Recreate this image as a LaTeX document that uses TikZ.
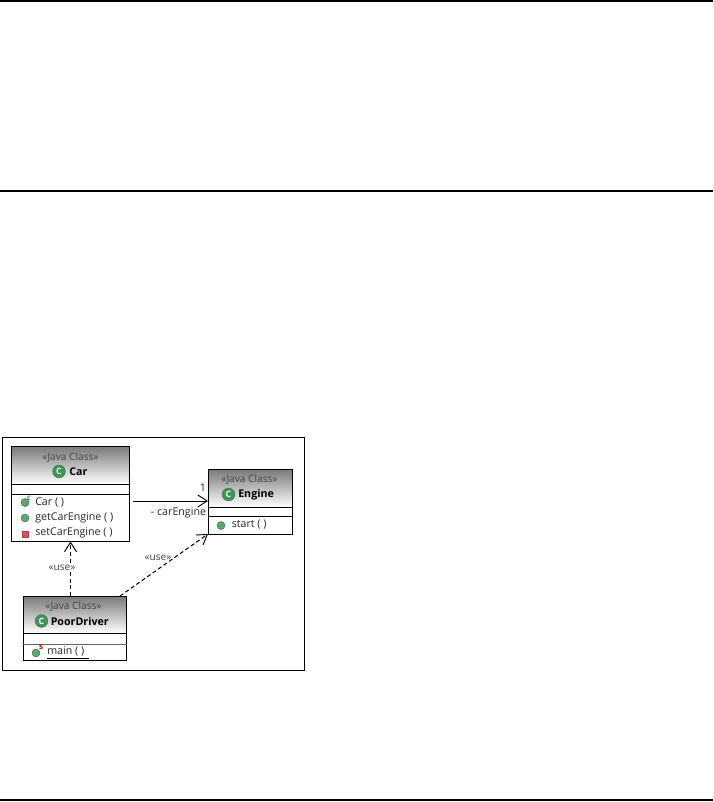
\documentclass[tikz,border=0pt]{standalone}
\usepackage{fontspec}
\setmainfont{Open Sans}
\usetikzlibrary{arrows.meta}
\definecolor{iconG}{RGB}{62,150,90}
\definecolor{iconR}{RGB}{225,80,90}
\definecolor{headG}{RGB}{120,120,120}
\tikzset{
  x=0.75pt,y=-0.75pt,
  rulel/.style={black,line width=0.9pt},
  frameb/.style={draw=black,line width=0.75pt},
  classbox/.style={draw=black,line width=0.75pt,anchor=north west,inner sep=0pt,outer sep=0pt},
  headshade/.style={top color=headG,bottom color=white,draw=none},
  sep/.style={black,line width=0.75pt},
  txt/.style={font=\fontsize{8}{9.5}\selectfont,inner sep=0pt,text=black!85},
  titletxt/.style={font=\fontsize{8}{9.5}\selectfont\bfseries,inner sep=0pt,anchor=west},
  stereo/.style={font=\fontsize{7.6}{9}\selectfont,inner sep=0pt,text=black!75},
  member/.style={txt,anchor=west},
  ciconn/.style={circle,fill=iconG,draw=iconG!70!black,line width=0.3pt,minimum size=9.5pt,inner sep=0pt,text=white,font=\fontsize{6.5}{7}\selectfont\bfseries},
  pub/.style={circle,fill=iconG!85!white,draw=iconG!70!black,line width=0.3pt,minimum size=6pt,inner sep=0pt},
  priv/.style={rectangle,fill=iconR,draw=iconR!80!black,line width=0.3pt,minimum size=4.8pt,inner sep=0pt},
  assoc/.style={-{Straight Barb[length=7pt,width=9pt,line width=0.7pt]},black,line width=0.75pt},
  dep/.style={assoc,dashed,dash pattern=on 3pt off 2pt},
}
\begin{document}
\begin{tikzpicture}
\useasboundingbox (0,0) rectangle (713,802);
% page rules
\coordinate (ra) at (0,1); \coordinate (rb) at (713,1);
\coordinate (rc) at (0,191); \coordinate (rd) at (713,191);
\coordinate (re) at (0,800); \coordinate (rf) at (713,800);
\draw[rulel] (ra)--(rb);
\draw[rulel] (rc)--(rd);
\draw[rulel] (re)--(rf);
% frame
\draw[frameb] (2,437) rectangle (304,670);

% Car
\fill[headshade] (11.5,446) rectangle (129.5,484);
\node[classbox,minimum width=88.5pt,minimum height=71.25pt] (car) at (11.5,446) {};
\draw[sep] (11.5,484) -- (129.5,484);
\draw[sep] (11.5,494) -- (129.5,494);
\node[stereo] (carst) at (70.5,458) {«Java Class»};
\node[ciconn] (carc) at (59,471.5) {C};
\node[titletxt] (carn) at (69,471.5) {Car};
\node[pub] (m1i) at (25,502.5) {};
\node[font=\fontsize{6}{6}\selectfont\bfseries,text=iconG,inner sep=0pt] (m1c) at (29,498) {c};
\node[member] (m1) at (35,502) {Car ( )};
\node[pub] (m2i) at (25,518) {};
\node[member] (m2) at (35,517.5) {getCarEngine ( )};
\node[priv] (m3i) at (25,534) {};
\node[member] (m3) at (35,533) {setCarEngine ( )};

% Engine
\fill[headshade] (208,469) rectangle (292,507);
\node[classbox,minimum width=63pt,minimum height=48.75pt] (eng) at (208,469) {};
\draw[sep] (208,507) -- (292,507);
\draw[sep] (208,516) -- (292,516);
\node[stereo] (engst) at (249.5,480) {«Java Class»};
\node[ciconn] (engc) at (228.5,494.5) {C};
\node[titletxt] (engn) at (238,494.5) {Engine};
\node[pub] (e1i) at (221,525.5) {};
\node[member] (e1) at (231.5,525) {start ( )};

% PoorDriver
\fill[headshade] (23,596) rectangle (126.5,633);
\node[classbox,minimum width=77.6pt,minimum height=48pt] (drv) at (23,596) {};
\draw[sep] (23,633) -- (126.5,633);
\draw[black!60,line width=0.75pt] (23,644) -- (126.5,644);
\node[stereo] (drvst) at (73.5,607) {«Java Class»};
\node[ciconn] (drvc) at (41.5,621) {C};
\node[titletxt] (drvn) at (50.5,621) {PoorDriver};
\node[pub] (d1i) at (36,653) {};
\node[font=\fontsize{6}{6}\selectfont\bfseries,text=red!80!black,inner sep=0pt] (d1s) at (41,647.5) {s};
\node[member] (d1) at (47,651.5) {main ( )};
\coordinate (ul1) at (47,658.5); \coordinate (ul2) at (89,658.5);
\draw[black,line width=0.6pt] (ul1)--(ul2);

% connectors
\coordinate (a1) at (133,501);
\coordinate (a2) at (208,501);
\draw[assoc] (a1) -- (a2);
\coordinate (d1a) at (70.5,596);
\coordinate (d1b) at (70.5,541.5);
\draw[dep] (d1a) -- (d1b);
\coordinate (d2a) at (120,596);
\coordinate (d2b) at (208,534);
\draw[dep] (d2a) -- (d2b);

% labels
\node[stereo,fill=white,inner xsep=0.5pt,inner ysep=0pt] (l1) at (62,567.5) {«use»};
\node[stereo] (l2) at (158,557.5) {«use»};
\node[txt] (l3) at (178.5,513) {- carEngine};
\node[txt] (l4) at (203,487.5) {1};
\end{tikzpicture}
\end{document}
